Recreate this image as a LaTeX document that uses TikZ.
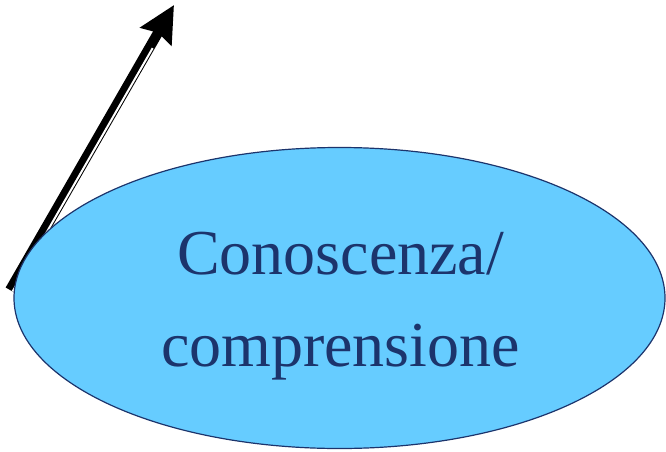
\documentclass[tikz,border=0pt]{standalone}
\usepackage{fontspec}
\setmainfont{Liberation Serif}
\usetikzlibrary{arrows.meta,shapes.geometric}
\definecolor{idea-fill}{RGB}{102,204,255}
\definecolor{idea-navy}{RGB}{28,52,108}
\tikzset{
every picture/.style={line width=0.8pt, >=stealth},
%%%%%%%%%%  Node styles
emptynode/.style={circle,minimum size=0pt, inner sep=0pt, outer
sep=0},
idea/.style={ellipse, draw=idea-navy, fill=idea-fill, line width=1.2pt,
             inner sep=0pt, minimum width=651pt, minimum height=301pt},
idea_text/.style={text=idea-navy, align=center, inner sep=0pt,
                  font=\fontsize{64pt}{92pt}\selectfont},
%%%% line styles
big_arrow/.style={line width=10pt, black,
                  -{Stealth[length=36pt,width=35pt,inset=4pt]}},
stripe/.style={line width=2pt, white, shorten >=48pt}
}
\begin{document}
\begin{tikzpicture}[x=1pt,y=1pt]
\useasboundingbox (0,0) rectangle (666,451);
%% arrow out of the ellipse
\coordinate (tail) at (10,161);
\coordinate (tip) at (174,446);
\draw[big_arrow] (tail) -- (tip);
\draw[stripe] ([shift={(2.6,-1.5)}]tail) -- ([shift={(2.6,-1.5)}]tip);
%% ellipse
\node[idea] (know) at (339.5,153) {};
\node[idea_text] (know_text) at ([xshift=1pt,yshift=-8.5pt]know.center)
	{Conoscenza/\\comprensione};
\end{tikzpicture}
\end{document}
